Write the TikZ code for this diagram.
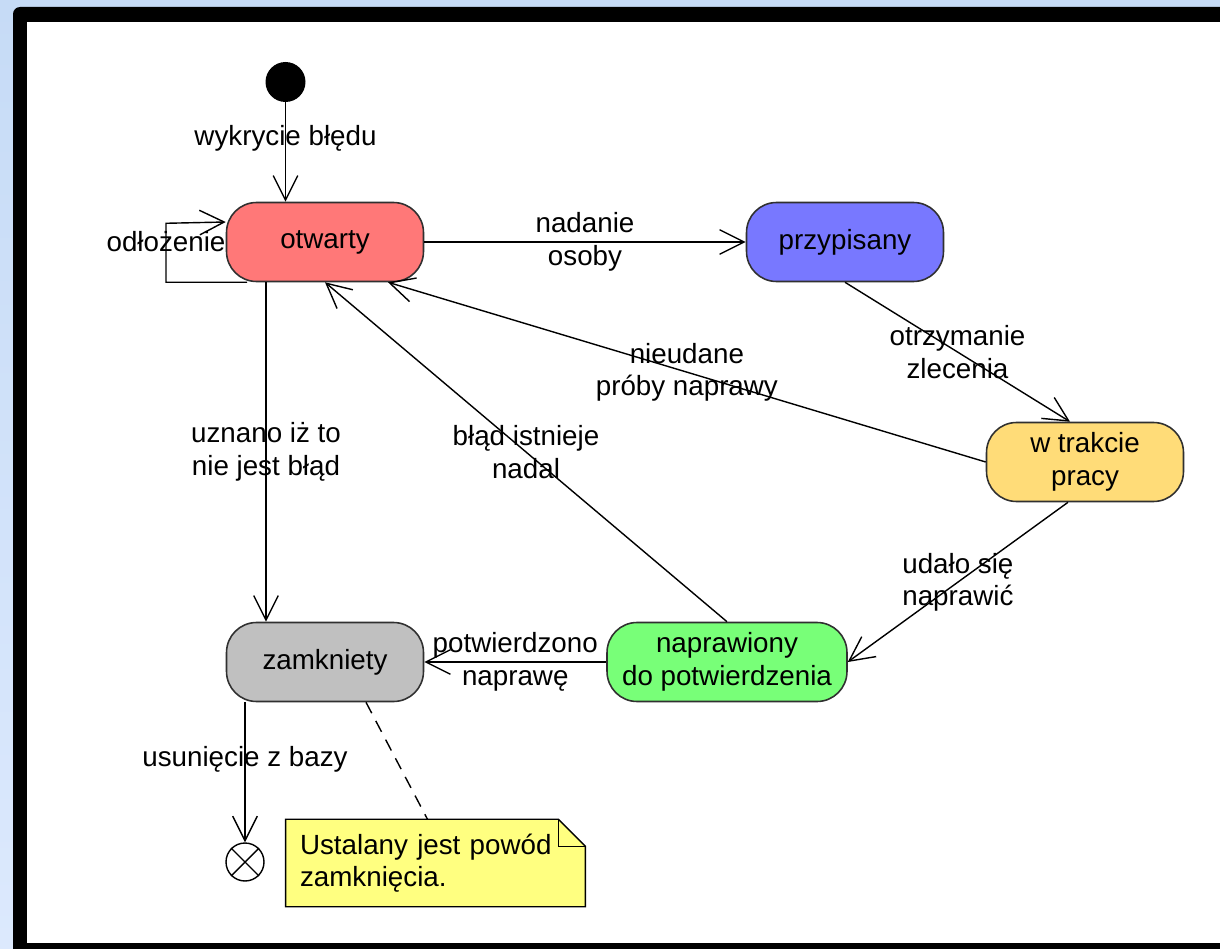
\documentclass[tikz,border=0pt]{standalone}
\usepackage{fontspec}
\setmainfont{Liberation Sans}
\usetikzlibrary{arrows.meta,calc,backgrounds}
\definecolor{openred}{HTML}{FF7878}
\definecolor{assignblue}{HTML}{7878FF}
\definecolor{workyellow}{HTML}{FFDC78}
\definecolor{fixgreen}{HTML}{78FF78}
\definecolor{closedgray}{HTML}{C0C0C0}
\definecolor{noteyellow}{HTML}{FFFF80}
\definecolor{stateline}{HTML}{303030}
\definecolor{bgtop}{HTML}{C6DBF6}
\definecolor{bgbottom}{HTML}{DCE9FD}

\begin{document}
\begin{tikzpicture}
  [x=0.02cm, y=-0.02cm,
   every node/.style={font=\fontsize{15.8}{18.5}\selectfont},
   state/.style={draw=stateline, line width=0.9pt, rounded corners=0.6cm,
     minimum width=3.94cm, minimum height=1.58cm, align=center},
   trans/.style={line width=0.8pt, -{Straight Barb[length=14pt,width=14pt,line width=0.8pt]}},
   lbl/.style={align=center, inner sep=1pt},
   notebox/.style={text width=5.42cm, inner sep=0.28cm, minimum height=1.6cm, align=left}]

  \useasboundingbox (0,0) rectangle (1220,949);

  % window frame
  \begin{scope}[on background layer]
    \shade[top color=bgtop, bottom color=bgbottom] (0,0) rectangle (1220,949);
    \fill[black] (13,949) [rounded corners=4] -- (13,7) [sharp corners] -- (1220,7) -- (1220,949) -- cycle;
    \fill[white] (27,22) rectangle (1220,943);
  \end{scope}

  \node[circle, fill=black, minimum size=0.8cm, inner sep=0] (init) at (285.5,82) {};
  \node[state, fill=openred] (otw) at (325,242) {otwarty};
  \node[state, fill=assignblue] (prz) at (845,242) {przypisany};
  \node[state, fill=workyellow] (wtp) at (1085,462) {w trakcie\\pracy};
  \node[state, fill=fixgreen, minimum width=4.8cm] (nap) at (727,662) {naprawiony\\do potwierdzenia};
  \node[state, fill=closedgray] (zam) at (325,662) {zamkniety};
  \node[circle, draw, line width=0.8pt, minimum size=0.76cm, inner sep=0] (fin) at (245,862) {};
  \draw[line width=0.8pt] (fin.north east) -- (fin.south west) (fin.north west) -- (fin.south east);
  \node[notebox] (note) at (435.5,863) {Ustalany jest powód\\zamknięcia.};

  % note shape
  \begin{scope}[on background layer]
    \filldraw[fill=noteyellow, draw=black, line width=0.8pt] (note.north west) -- ($(note.north east)+(-27,0)$)
      -- ($(note.north east)+(0,27)$) -- (note.south east) -- (note.south west) -- cycle;
  \end{scope}
  \draw[line width=0.8pt] ($(note.north east)+(-27,0)$) -- ++(0,27) -- ($(note.north east)+(0,27)$);

  \draw[trans] (init) -- node[lbl, pos=0.36] {wykrycie błędu} (init |- otw.north);
  \draw[trans] ($(otw.south)+(-78,0)$) -- ++(-81,0) -- node[lbl, pos=0.69] {odłożenie} ++(0,-59)
    -- ($(otw.west)+(0,-20)$);
  \draw[trans] (otw) -- node[lbl] {nadanie\\osoby} (prz);
  \draw[trans] (prz.south) -- node[lbl] {otrzymanie\\zlecenia} ($(wtp.north)+(-15,0)$);
  \draw[trans] (wtp.west) -- node[lbl] {nieudane\\próby naprawy} ($(otw.south)+(63,0)$);
  \draw[trans] ($(wtp.south)+(-17,0)$) -- node[lbl] {udało się\\naprawić} (nap.east);
  \draw[trans] (nap.north) -- node[lbl] {błąd istnieje\\nadal} (otw.south);
  \draw[trans] (nap) -- node[lbl] {potwierdzono\\naprawę} (zam);
  \draw[trans] ($(otw.south)+(-59,0)$) -- node[lbl] {uznano iż to\\nie jest błąd} ($(zam.north)+(-59,0)$);
  \draw[trans] ($(zam.south)+(-80,0)$) -- node[lbl, pos=0.41] {usunięcie z bazy} (fin);
  \draw[dashed, dash pattern=on 7pt off 5pt, line width=0.8pt] ($(zam.south)+(41,0)$) -- ($(note.north)+(-8,0)$);

\end{tikzpicture}
\end{document}
